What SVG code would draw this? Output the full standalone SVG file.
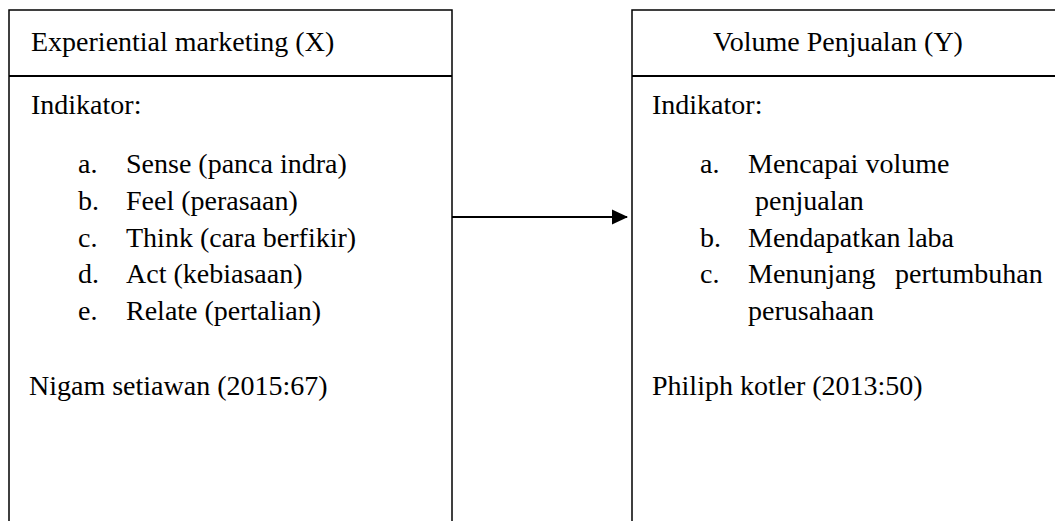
<svg xmlns="http://www.w3.org/2000/svg" width="1055" height="521" viewBox="0 0 1055 521">
<style>
.box{fill:#fff;stroke:#000;stroke-width:1.5}
.div{stroke:#000;stroke-width:2}
.t{font-family:'Liberation Serif','Times New Roman',serif;font-size:28px;fill:#000}
.conn{stroke:#000;stroke-width:2;fill:none}
</style>
<defs>
<marker id="arrow" markerWidth="16" markerHeight="16" refX="15" refY="7.5" orient="auto" markerUnits="userSpaceOnUse" viewBox="0 0 16 15">
<path d="M0,0 L16,7.5 L0,15 z" fill="#000"/>
</marker>
</defs>
<g id="node-x">
<rect class="box" x="9" y="10" width="443" height="530"/>
<line class="div" x1="9" y1="76" x2="452" y2="76"/>
<text class="t" x="31" y="51">Experiential marketing (X)</text>
<text class="t" x="31" y="114">Indikator:</text>
<text class="t" x="78" y="173">a.</text><text class="t" x="126" y="173">Sense (panca indra)</text>
<text class="t" x="78" y="210">b.</text><text class="t" x="126" y="210">Feel (perasaan)</text>
<text class="t" x="78" y="247">c.</text><text class="t" x="126" y="247">Think (cara berfikir)</text>
<text class="t" x="78" y="283">d.</text><text class="t" x="126" y="283">Act (kebiasaan)</text>
<text class="t" x="78" y="320">e.</text><text class="t" x="126" y="320">Relate (pertalian)</text>
<text class="t" x="29" y="395">Nigam setiawan (2015:67)</text>
</g>
<g id="node-y">
<rect class="box" x="632" y="10" width="450" height="530"/>
<line class="div" x1="632" y1="76" x2="1055" y2="76"/>
<text class="t" x="838" y="51" text-anchor="middle">Volume Penjualan (Y)</text>
<text class="t" x="652" y="114">Indikator:</text>
<text class="t" x="700" y="173">a.</text><text class="t" x="748" y="173">Mencapai volume</text>
<text class="t" x="755" y="210">penjualan</text>
<text class="t" x="700" y="247">b.</text><text class="t" x="748" y="247">Mendapatkan laba</text>
<text class="t" x="700" y="283">c.</text><text class="t" x="748" y="283">Menunjang <tspan x="895">pertumbuhan</tspan></text>
<text class="t" x="748" y="320">perusahaan</text>
<text class="t" x="652" y="395">Philiph kotler (2013:50)</text>
</g>
<g id="connectors">
<line class="conn" x1="452" y1="217" x2="627" y2="217" marker-end="url(#arrow)"/>
</g>
</svg>
